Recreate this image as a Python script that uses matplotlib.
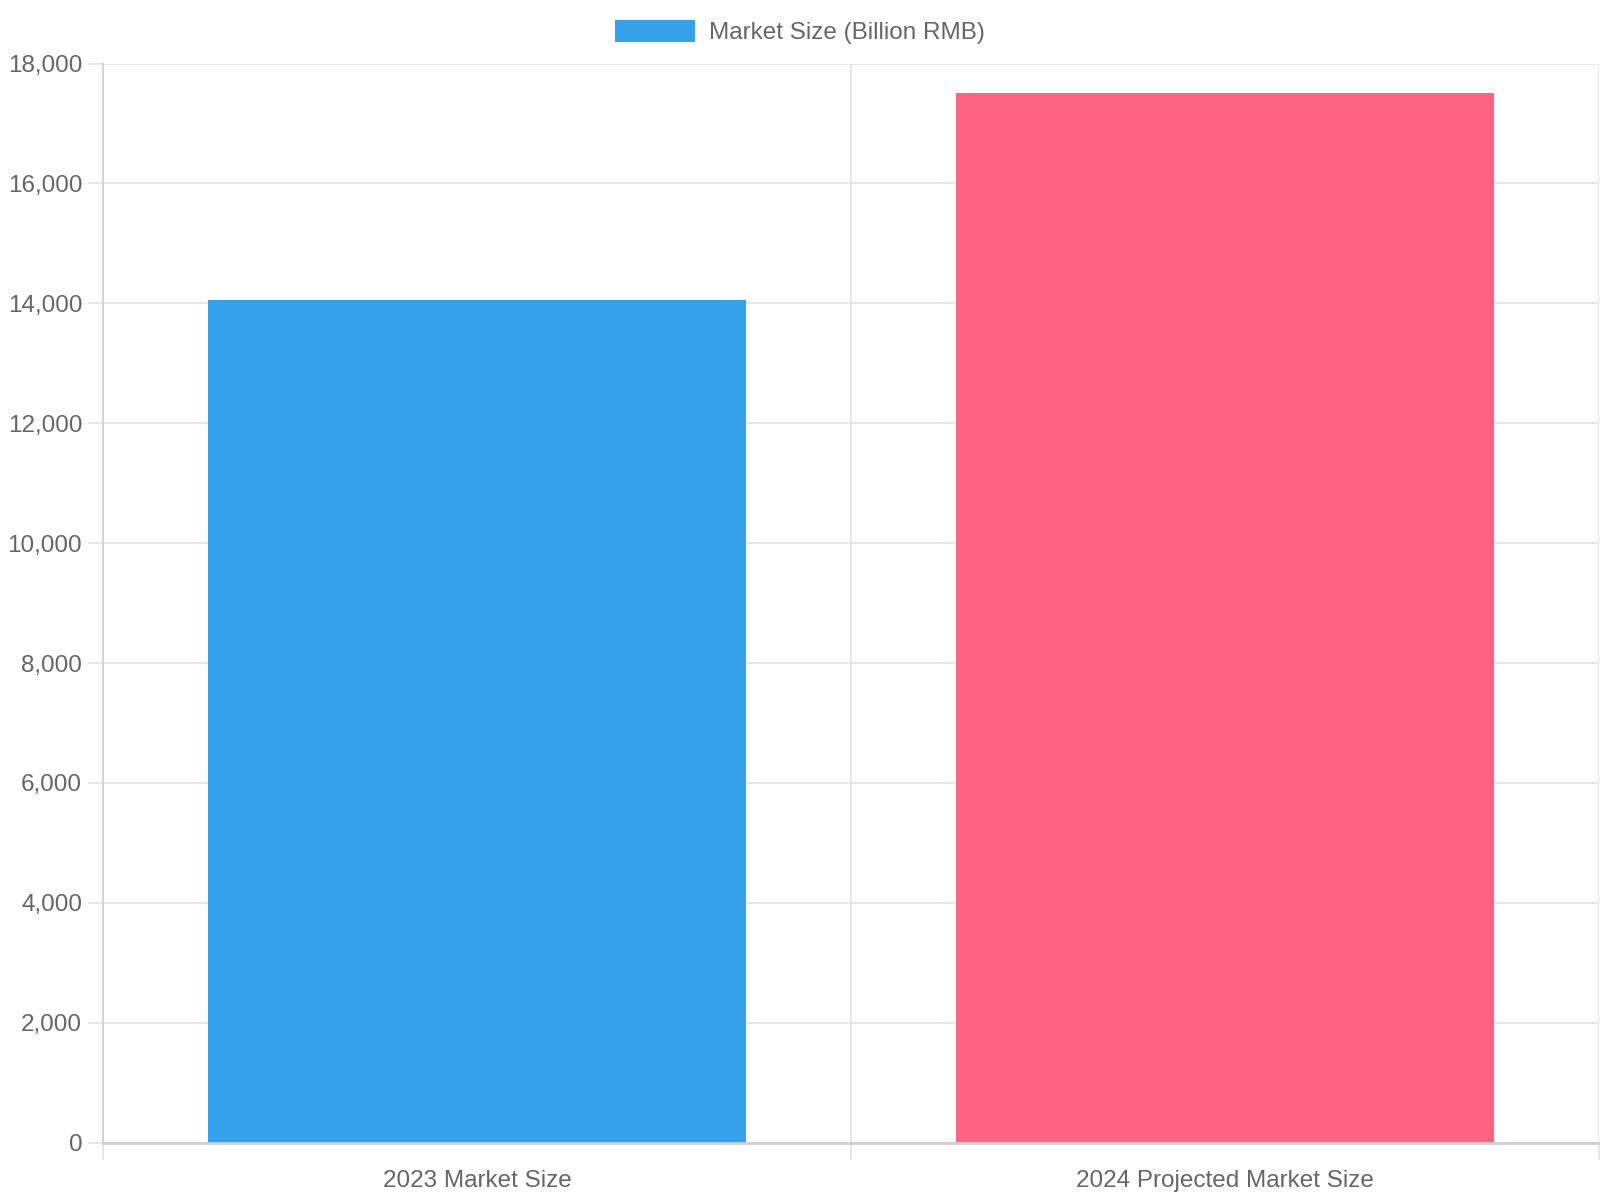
import matplotlib
matplotlib.use("Agg")
import matplotlib.pyplot as plt
from matplotlib.patches import Patch
from matplotlib.ticker import FuncFormatter, FixedLocator

# data
categories = ["2023 Market Size", "2024 Projected Market Size"]
values = [14050, 17500]
bar_colors = ["#36A2EB", "#FF6384"]
legend_label = "Market Size (Billion RMB)"

plt.rcParams['font.family'] = ['Liberation Sans', 'DejaVu Sans']
text_col = "#666666"
grid_col = "#e5e5e5"
fs = 17.5

fig = plt.figure(figsize=(16, 12), dpi=100)
ax = fig.add_axes([103 / 1600, 1 - 1142.7 / 1200, (1599 - 103) / 1600, (1142.7 - 63.5) / 1200])

x = list(range(len(categories)))
ax.bar(x, values, width=0.72, color=bar_colors, zorder=3)

ax.set_xlim(-0.5, len(categories) - 0.5)
ax.set_ylim(0, 18000)
ax.set_yticks(range(0, 18001, 2000))
ax.yaxis.set_major_formatter(FuncFormatter(lambda v, p: f"{int(v):,}"))

ax.set_xticks(x)
ax.set_xticklabels(categories)
ax.xaxis.set_minor_locator(FixedLocator([-0.5, 0.5, 1.5]))

ax.grid(axis='y', which='major', color=grid_col, linewidth=1.3, zorder=0)
ax.grid(axis='x', which='minor', color=grid_col, linewidth=1.3, zorder=0)

ax.tick_params(axis='y', which='major', length=11, width=1.3, color=grid_col,
               labelsize=fs, labelcolor=text_col, pad=4)
ax.tick_params(axis='x', which='major', length=0, labelsize=fs, labelcolor=text_col, pad=20)
ax.tick_params(axis='x', which='minor', length=12, width=1.3, color=grid_col)

for s in ['top', 'right']:
    ax.spines[s].set_visible(False)
ax.spines['left'].set_color("#d0d0d0")
ax.spines['left'].set_linewidth(1.3)
ax.spines['bottom'].set_color("#d0d0d0")
ax.spines['bottom'].set_linewidth(2)
ax.spines['bottom'].set_zorder(4)

fig.legend(handles=[Patch(facecolor=bar_colors[0])], labels=[legend_label],
           loc='center', bbox_to_anchor=(0.5, 1 - 32 / 1200), frameon=False,
           fontsize=fs, labelcolor=text_col, handlelength=3.3, handleheight=1.0,
           handletextpad=0.55)

fig.savefig("out.png", dpi=100)
